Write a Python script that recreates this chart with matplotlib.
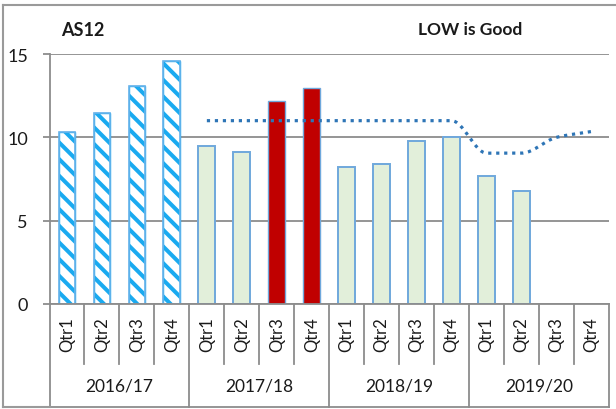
import numpy as np
import matplotlib
matplotlib.use('Agg')
import matplotlib.pyplot as plt
import matplotlib.transforms as mtransforms
from matplotlib.lines import Line2D

plt.rcParams['font.family'] = ['Lato', 'DejaVu Sans']
plt.rcParams['hatch.linewidth'] = 2.9

# 데이터
years = ['2016/17', '2017/18', '2018/19', '2019/20']
quarters = ['Qtr1', 'Qtr2', 'Qtr3', 'Qtr4']
values = [10.3, 11.45, 13.1, 14.6,
          9.5, 9.1, 12.2, 12.95,
          8.2, 8.4, 9.8, 10.0,
          7.7, 6.8, None, None]
# 막대 종류: h = 빗금(전년도), g = 초록, r = 빨강
kinds = ['h', 'h', 'h', 'h',
         'g', 'g', 'r', 'r',
         'g', 'g', 'g', 'g',
         'g', 'g', 'g', 'g']
target = [None, None, None, None,
          11, 11, 11, 11,
          11, 11, 11, 11,
          9.05, 9.05, 10, 10.35]
yticks = [0, 5, 10, 15]

grid_col = '#8c8c8c'
text_col = '#1a1a1a'

fig = plt.figure(figsize=(6.16, 4.10), dpi=100)
ax = fig.add_axes([49.5 / 616, 1 - 305 / 410, 559.5 / 616, 250 / 410])

n = len(values)
x = np.arange(n)

# 막대
for i in range(n):
    v = values[i]
    if v is None:
        continue
    if kinds[i] == 'h':
        ax.bar(x[i], v, width=0.48, color='white', edgecolor='#1aaaf0',
               hatch='\\\\', linewidth=1.0, zorder=3)
        ax.bar(x[i], v, width=0.48, color='none', edgecolor='#6ab4ea',
               linewidth=1.2, zorder=4)
    elif kinds[i] == 'g':
        ax.bar(x[i], v, width=0.48, color='#e2efda', edgecolor='#6fa8dc',
               linewidth=1.4, zorder=3)
    else:
        ax.bar(x[i], v, width=0.48, color='#c00000', edgecolor='#6fa8dc',
               linewidth=1.0, zorder=3)


# 목표선 (부드러운 곡선, 단조 3차 보간으로 그리기만 함)
def smooth(px, py, steps=20):
    px = np.asarray(px, float)
    py = np.asarray(py, float)
    h = np.diff(px)
    d = np.diff(py) / h
    m = np.zeros(len(px))
    m[0], m[-1] = d[0], d[-1]
    for k in range(1, len(px) - 1):
        if d[k - 1] * d[k] > 0:
            m[k] = 2 / (1 / d[k - 1] + 1 / d[k])
    out_x, out_y = [], []
    for k in range(len(px) - 1):
        t = np.linspace(0, 1, steps, endpoint=False)
        h00 = 2 * t ** 3 - 3 * t ** 2 + 1
        h10 = t ** 3 - 2 * t ** 2 + t
        h01 = -2 * t ** 3 + 3 * t ** 2
        h11 = t ** 3 - t ** 2
        out_x.extend(px[k] + t * h[k])
        out_y.extend(h00 * py[k] + h10 * h[k] * m[k] + h01 * py[k + 1] + h11 * h[k] * m[k + 1])
    out_x.append(px[-1])
    out_y.append(py[-1])
    return out_x, out_y


tx = [x[i] for i in range(n) if target[i] is not None]
ty = [target[i] for i in range(n) if target[i] is not None]
sx, sy = smooth(tx, ty)
ax.plot(sx, sy, color='#2e75b6', linewidth=2.3, linestyle=(0, (1, 1.5)),
        dash_capstyle='butt', zorder=5)

# 축 설정
ax.set_xlim(-0.5, n - 0.5)
ax.set_ylim(0, 15)
ax.set_yticks(yticks)
ax.set_yticklabels([str(t) for t in yticks])
ax.yaxis.grid(True, color=grid_col, linewidth=1.3, zorder=0)
ax.set_xticks([])
for s in ['top', 'right', 'bottom']:
    ax.spines[s].set_visible(False)
ax.spines['left'].set_color(grid_col)
ax.spines['left'].set_linewidth(1.3)
ax.spines['left'].set_zorder(6)
ax.tick_params(axis='y', length=5, width=1.3, color=grid_col, pad=10.5,
               labelsize=13, labelcolor=text_col)
ax.set_facecolor('none')

# 아래쪽 카테고리 표
trans = mtransforms.blended_transform_factory(ax.transData, ax.transAxes)
ax.plot([-0.5, n - 0.5], [0, 0], transform=trans, color=grid_col,
        linewidth=1.3, clip_on=False, zorder=6)
ax.plot([-0.5, n - 0.5], [-0.412, -0.412], transform=trans, color=grid_col,
        linewidth=1.3, clip_on=False)
for b in range(n + 1):
    y_end = -0.412 if b % 4 == 0 else -0.24
    ax.plot([b - 0.5, b - 0.5], [0, y_end], transform=trans, color=grid_col,
            linewidth=1.3, clip_on=False)
for i in range(n):
    ax.text(x[i], -0.12, quarters[i % 4], transform=trans, rotation=90,
            ha='center', va='center', fontsize=12, color=text_col)
for j, yr in enumerate(years):
    ax.text(4 * j + 1.5, -0.325, yr, transform=trans, ha='center',
            va='center', fontsize=12.5, color=text_col)

# 제목
fig.text(61 / 616, 1 - 30 / 410, 'AS12', fontsize=13, fontweight='bold',
         color=text_col, va='center', ha='left')
fig.text(418 / 616, 1 - 30 / 410, 'LOW is Good', fontsize=12.5,
         fontweight='bold', color=text_col, va='center', ha='left')

# 바깥 테두리
fig.add_artist(Line2D([3 / 616, 1.0], [1 - 6 / 410, 1 - 6 / 410],
                      transform=fig.transFigure, color='#9a9a9a', linewidth=1.5))
fig.add_artist(Line2D([3 / 616, 3 / 616], [1 - 6 / 410, 1 - 408 / 410],
                      transform=fig.transFigure, color='#9a9a9a', linewidth=1.5))
fig.add_artist(Line2D([3 / 616, 49.5 / 616], [1 - 408 / 410, 1 - 408 / 410],
                      transform=fig.transFigure, color='#9a9a9a', linewidth=1.5))

fig.savefig('out.png', dpi=100)
